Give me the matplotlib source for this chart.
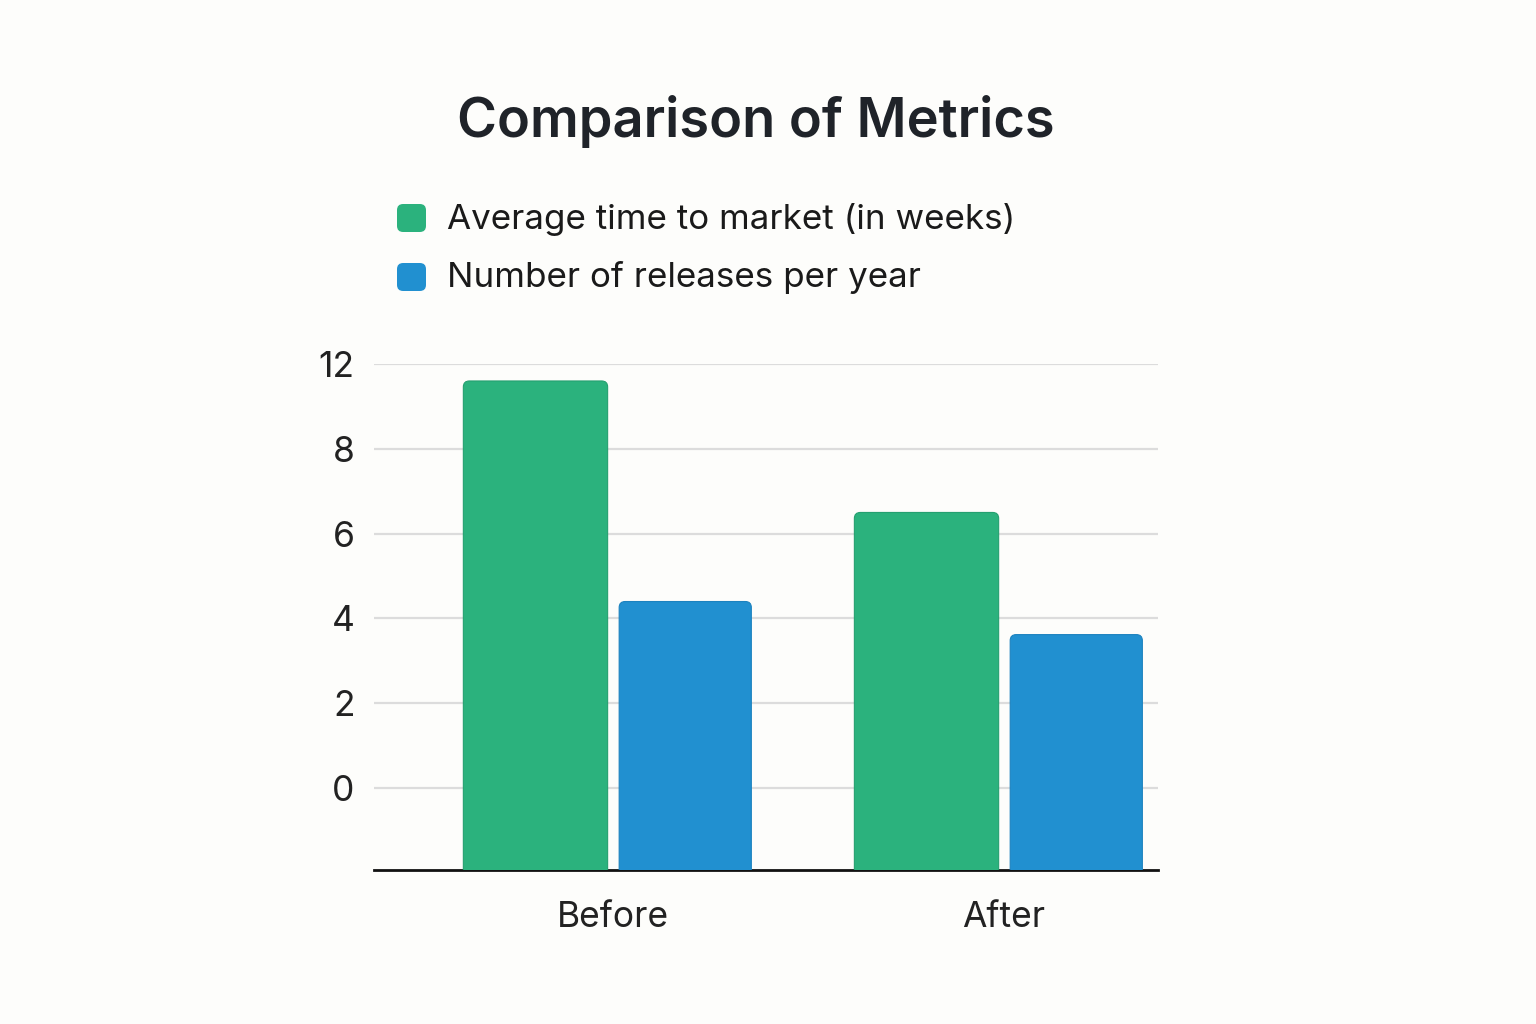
import matplotlib.pyplot as plt
from matplotlib.patches import FancyBboxPatch
import numpy as np

plt.rcParams['font.family'] = ['Inter', 'DejaVu Sans']

categories = ['Before', 'After']
time_to_market = [9.6, 6.5]
releases_per_year = [4.4, 3.62]
series_names = ['Average time to market (in weeks)', 'Number of releases per year']
ytick_pos = [0, 2, 4, 6, 8, 10]
ytick_labels = ['0', '2', '4', '6', '8', '12']

green = '#2bb27d'
blue = '#2190d0'
bg = '#fdfdfb'

fig = plt.figure(figsize=(15.36, 10.24), dpi=100, facecolor=bg)
ax = fig.add_axes([374 / 1536, 1 - 870 / 1024, 784 / 1536, (870 - 364) / 1024])
ax.set_facecolor(bg)

ybottom = -1.93
ax.set_xlim(-0.597, 1.408)
ax.set_ylim(ybottom, 10.0)

x = np.arange(len(categories))
base = -3.0
px_x = 391.0
px_y = 42.5
r = 6 / px_x
for xi, v in zip(x, time_to_market):
    w = 0.369
    p = FancyBboxPatch((xi - 0.184 - w / 2, base), w, v - base,
                       boxstyle=f'round,pad=0,rounding_size={r}',
                       mutation_aspect=px_x / px_y,
                       fc=green, ec='#25a070', lw=0.8, zorder=3)
    ax.add_patch(p)
for xi, v in zip(x, releases_per_year):
    w = 0.338
    p = FancyBboxPatch((xi + 0.199 - w / 2, base), w, v - base,
                       boxstyle=f'round,pad=0,rounding_size={r}',
                       mutation_aspect=px_x / px_y,
                       fc=blue, ec='#1c82bf', lw=0.8, zorder=3)
    ax.add_patch(p)

ax.set_yticks(ytick_pos)
ax.set_yticklabels(ytick_labels)
ax.yaxis.grid(True, color='#dcdcdc', lw=1.6, zorder=0)
ax.set_axisbelow(True)
ax.set_xticks(x + 0.013)
ax.set_xticklabels(categories)
ax.tick_params(axis='both', length=0, labelsize=25.5, colors='#222222')
ax.tick_params(axis='y', pad=14)
ax.tick_params(axis='x', pad=22)
for s in ['top', 'right', 'left']:
    ax.spines[s].set_visible(False)
ax.spines['bottom'].set_color('#111111')
ax.spines['bottom'].set_linewidth(2)

fig.text(756 / 1536, 1 - 122 / 1024, 'Comparison of Metrics', ha='center', va='center',
         fontsize=39, fontweight='semibold', color='#1f2329')

for i, (name, c) in enumerate(zip(series_names, [green, blue])):
    yc = 218 + i * 59
    fig.patches.append(FancyBboxPatch((397 / 1536, 1 - (yc + 14) / 1024), 29 / 1536, 28 / 1024,
                                      boxstyle='round,pad=0,rounding_size=0.004',
                                      mutation_aspect=1536 / 1024,
                                      transform=fig.transFigure, fc=c, ec='none'))
    fig.text(447 / 1536, 1 - (yc + 1) / 1024, name, ha='left', va='center',
             fontsize=25.2, color='#1a1a1a')

fig.savefig('out.png', dpi=100, facecolor=bg)
